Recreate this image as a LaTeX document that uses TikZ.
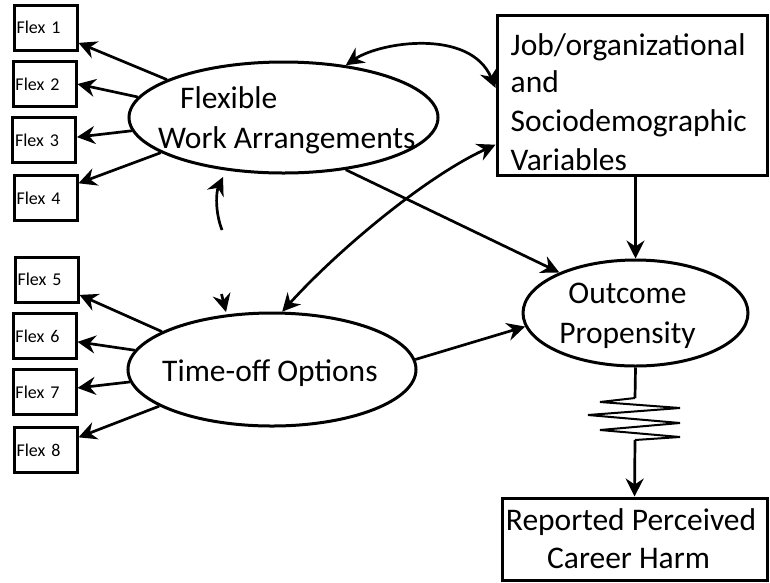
\documentclass[tikz,border=0pt]{standalone}
\usepackage{fontspec}
\setmainfont{Carlito}
\usetikzlibrary{arrows.meta,shapes.geometric}
\begin{document}
\begin{tikzpicture}[x=1pt,y=-1pt,
  >={Stealth[length=18pt,width=18pt,inset=6pt]},
  every node/.style={font=\fontsize{31.5}{38}\selectfont, inner sep=0pt},
  latent/.style={draw, ellipse, line width=3pt},
  flexbox/.style={draw, line width=3pt, minimum width=63pt, minimum height=45pt,
    text width=58pt, align=left, font=\fontsize{18}{21}\selectfont},
  bigbox/.style={draw, line width=3pt},
  txt/.style={anchor=base west},
  ctxt/.style={anchor=base},
  conn/.style={line width=2.7pt},
  zz/.style={line width=2pt, line join=miter},
]
\useasboundingbox (0,0) rectangle (770,582);

% indicator boxes
\node[flexbox] (f1) at (45.5,27.5) {Flex 1};
\node[flexbox] (f2) at (44.5,84)   {Flex 2};
\node[flexbox] (f3) at (44,140)    {Flex 3};
\node[flexbox] (f4) at (45.5,198)  {Flex 4};
\node[flexbox] (f5) at (46.5,279.5){Flex 5};
\node[flexbox] (f6) at (44.5,336)  {Flex 6};
\node[flexbox] (f7) at (44.5,392)  {Flex 7};
\node[flexbox] (f8) at (45.5,450)  {Flex 8};

% latent variables
\node[latent, minimum width=309pt, minimum height=111pt] (fwa) at (283.5,117.5) {};
\node[txt] (fwa1) at (180,108.5) {Flexible};
\node[txt] (fwa2) at (158,148.3) {Work Arrangements};

\node[latent, minimum width=288pt, minimum height=113pt] (tof) at (272,369.5) {};
\node[txt] (tof1) at (162,381.5) {Time-off Options};

\node[latent, minimum width=225pt, minimum height=106pt] (op) at (635.5,313) {};
\node[ctxt] (op1) at (627.5,303) {Outcome};
\node[ctxt] (op2) at (627.5,343) {Propensity};

% covariates box
\node[bigbox, minimum width=270pt, minimum height=160pt] (job) at (632,95) {};
\node[txt] (job1) at (510.5,55)    {Job/organizational};
\node[txt] (job2) at (510.5,92.5)  {and};
\node[txt] (job3) at (510.5,131.7) {Sociodemographic};
\node[txt] (job4) at (510.5,170)   {Variables};

% observed outcome
\node[bigbox, minimum width=265pt, minimum height=82pt] (harm) at (634.5,539) {};
\node[ctxt] (harm1) at (631,530)   {Reported Perceived};
\node[ctxt] (harm2) at (628.5,568) {Career Harm};

% loadings
\draw[conn,->] (fwa.162) -- (f1.-25);
\draw[conn,->] (fwa.172) -- (f2.east);
\draw[conn,->] (fwa.185) -- (f3.5);
\draw[conn,->] (fwa.196) -- (f4.24);
\draw[conn,->] (tof.161) -- (f5.-25);
\draw[conn,->] (tof.172) -- (f6.-10);
\draw[conn,->] (tof.185) -- (f7.7);
\draw[conn,->] (tof.198) -- (f8.21);

% structural paths
\draw[conn,->] (fwa.-40) -- (op.152.7);
\draw[conn,->] (tof.4) -- (op.187);
\draw[conn,->] (op.north |- job.south) -- (op.north);

% correlations
\draw[conn,<->] (fwa.40) .. controls (380,42) and (470,28) .. (job.177);
\draw[conn,<->] (tof.80) .. controls (337,251) and (425,177) .. (job.200);

% partial correlation between the two factors
\coordinate (ca) at (222,230);
\coordinate (cb) at (223,177);
\coordinate (cc) at (221.5,294);
\coordinate (cd) at (226,312);
\draw[conn,->] (ca) .. controls (215,212) and (216,192) .. (cb);
\draw[conn,->] (cc) -- (cd);

% link to the reported outcome
\coordinate (zin) at (635,398);
\coordinate (zout) at (635,440);
\draw[conn] (op.south) -- (zin);
\draw[zz] (zin) -- (600,402) -- (680,408) -- (588,415) -- (680,423)
  -- (600,430) -- (680,437) -- (zout);
\draw[conn,->] (zout) -- (harm.north);
\end{tikzpicture}
\end{document}
